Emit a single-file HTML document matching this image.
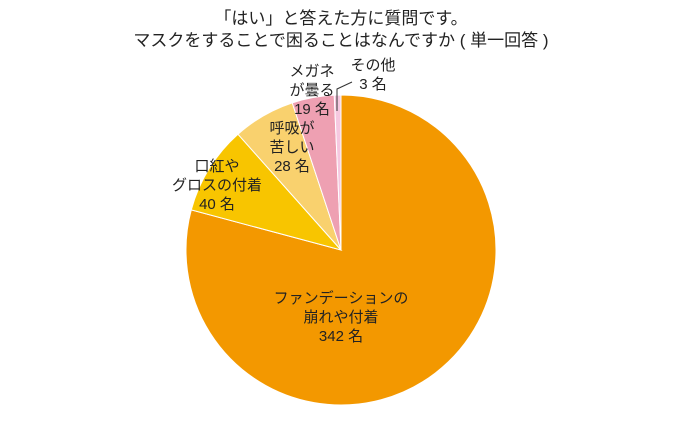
<!DOCTYPE html>
<html><head><meta charset="utf-8">
<style>
html,body{margin:0;padding:0;background:#fff;}
body{width:680px;height:427px;overflow:hidden;font-family:"Liberation Sans","Noto Sans CJK JP",sans-serif;}
svg text{font-family:"Liberation Sans","Noto Sans CJK JP",sans-serif;fill:#222;}
</style></head>
<body>
<svg width="680" height="427">
<text x="341" y="24" text-anchor="middle" font-size="17">「はい」と答えた方に質問です。</text>
<text x="341" y="46" text-anchor="middle" font-size="17">マスクをすることで困ることはなんですか ( 単一回答 )</text>
<g id="slices"></g>
<polyline points="337,111 337,89 352,82" fill="none" stroke="#333" stroke-width="1"/>
<g id="labels"></g>
</svg>
<script>
const categories=["ファンデーションの崩れや付着","口紅やグロスの付着","呼吸が苦しい","メガネが曇る","その他"];
const values=[342,40,28,19,3];
const colors=["#F39800","#F8C500","#F9D16E","#EEA0B2","#F6C8E0"];
const labelLines=[["ファンデーションの","崩れや付着","342 名"],["口紅や","グロスの付着","40 名"],["呼吸が","苦しい","28 名"],["メガネ","が曇る","19 名"],["その他","3 名"]];
const labelPos=[[341,303],[217,171],[292,133],[312,76],[373,70]];
const cx=341,cy=250,r=155;
const total=values.reduce((a,b)=>a+b,0);
const ns="http://www.w3.org/2000/svg";
const g=document.getElementById('slices');
const lg=document.getElementById('labels');
function pt(a){return [cx+r*Math.sin(a),cy-r*Math.cos(a)];}
let acc=0;
values.forEach((v,i)=>{
  const a0=acc/total*2*Math.PI; acc+=v; const a1=acc/total*2*Math.PI;
  const p0=pt(a0),p1=pt(a1);
  const large=(a1-a0)>Math.PI?1:0;
  const path=document.createElementNS(ns,'path');
  path.setAttribute('d',`M${cx},${cy}L${p0[0]},${p0[1]}A${r},${r} 0 ${large} 1 ${p1[0]},${p1[1]}Z`);
  path.setAttribute('fill',colors[i]);
  path.setAttribute('stroke','#fff');
  path.setAttribute('stroke-width','1');
  
  
  g.appendChild(path);
  const t=document.createElementNS(ns,'text');
  t.setAttribute('text-anchor','middle');
  t.setAttribute('font-size','15');
  
  
  labelLines[i].forEach((ln,j)=>{
    const ts=document.createElementNS(ns,'tspan');
    ts.setAttribute('x',labelPos[i][0]);
    ts.setAttribute('y',labelPos[i][1]+j*19);
    ts.textContent=ln;
    t.appendChild(ts);
  });
  lg.appendChild(t);
});
</script>
</body></html>
